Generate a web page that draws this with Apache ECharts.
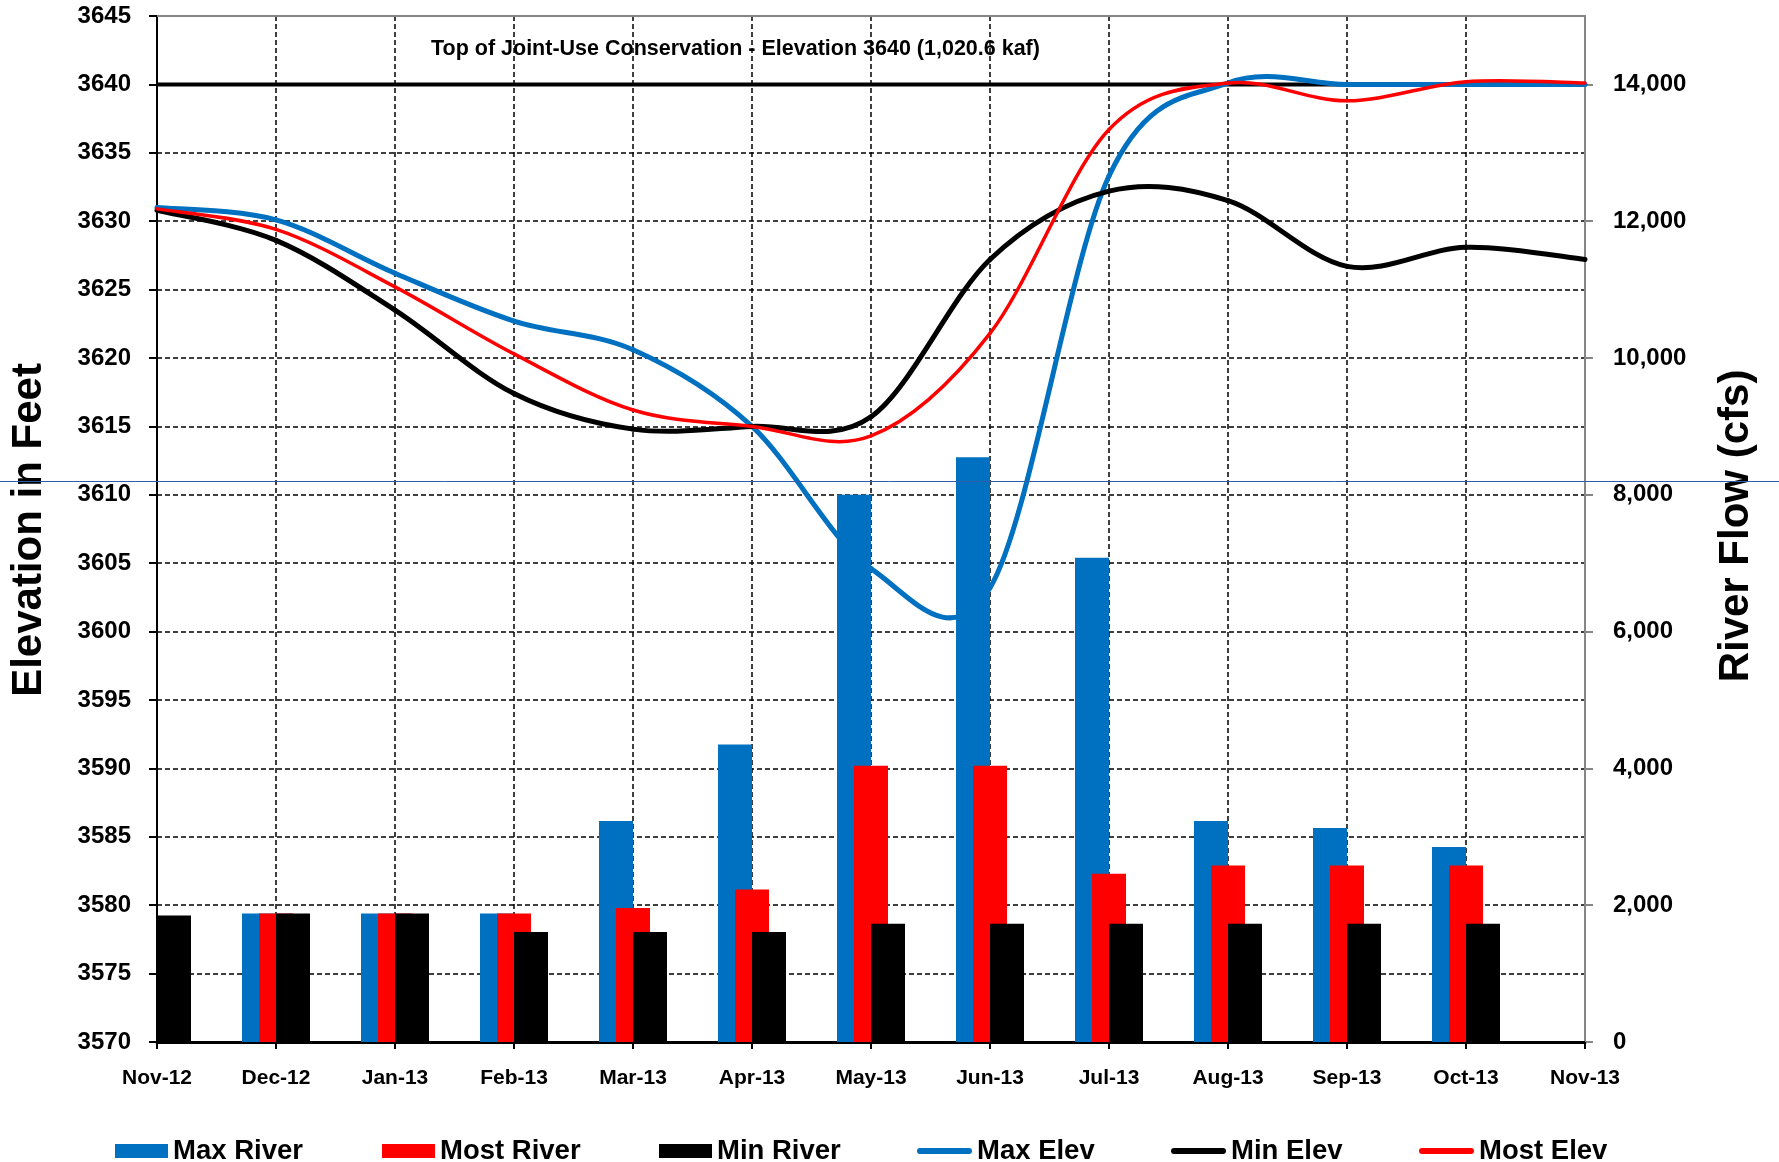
<!DOCTYPE html>
<html>
<head>
<meta charset="utf-8">
<script src="https://cdn.jsdelivr.net/npm/echarts@6/dist/echarts.min.js"></script>
<style>
  html, body { margin: 0; padding: 0; background: #fff; }
  #chart { width: 1779px; height: 1162px; }
</style>
</head>
<body>
<div id="chart"></div>
<script>
// Month boundaries shown along the bottom axis
const months = ['Nov-12', 'Dec-12', 'Jan-13', 'Feb-13', 'Mar-13', 'Apr-13', 'May-13',
                'Jun-13', 'Jul-13', 'Aug-13', 'Sep-13', 'Oct-13', 'Nov-13'];

// Monthly river releases (cfs), right axis
const maxRiver  = ['-', 1880, 1880, 1880, 3230, 4350, 8000, 8550, 7080, 3230, 3130, 2850, '-'];
const mostRiver = ['-', 1880, 1880, 1880, 1960, 2230, 4040, 4040, 2460, 2580, 2580, 2580, '-'];
const minRiver  = [1850, 1880, 1880, 1610, 1610, 1610, 1730, 1730, 1730, 1730, 1730, 1730, '-'];

// End-of-month reservoir elevation (feet), left axis
const maxElev  = [3631.0, 3630.1, 3626.2, 3622.7, 3620.6, 3615.0, 3604.6, 3603.2, 3633.3, 3640.1, 3640.0, 3640.0, 3640.0];
const minElev  = [3630.8, 3628.6, 3623.5, 3617.4, 3614.8, 3615.0, 3615.7, 3627.2, 3632.2, 3631.5, 3626.7, 3628.1, 3627.2];
const mostElev = [3630.9, 3629.4, 3625.2, 3620.3, 3616.2, 3615.0, 3614.3, 3621.8, 3636.7, 3640.1, 3638.8, 3640.2, 3640.1];

// Top of joint-use conservation pool
const TOP_ELEV = 3640;
const TOP_STORAGE = '1,020.6 kaf';

// Tick values
const elevMin = 3570, elevMax = 3645, elevStep = 5;
const flowTicks = [0, 2000, 4000, 6000, 8000, 10000, 12000, 14000];

const FONT = '"Liberation Sans", Arial, Helvetica, sans-serif';
const BLUE = '#0070C0', RED = '#FF0000', BLACK = '#000000', GREY = '#868686';

const chart = echarts.init(document.getElementById('chart'), null, { renderer: 'canvas' });

const pill = 'path://M3,0 H52 A3,3 0 0 1 52,6 H3 A3,3 0 0 1 3,0 Z';
const legendText = { fontFamily: FONT, fontSize: 27.5, fontWeight: 'bold', color: BLACK };
function legendAt(name, left, isLine) {
  return {
    data: [name], left: left, top: 1137, padding: 0, orient: 'horizontal',
    icon: isLine ? pill : 'rect',
    itemWidth: isLine ? 55 : 53, itemHeight: isLine ? 6 : 14,
    textStyle: legendText, selectedMode: false
  };
}

function barSeries(name, data, color) {
  return {
    name, type: 'bar', xAxisIndex: 0, yAxisIndex: 1, data,
    barWidth: 34, barGap: '-50%',
    itemStyle: { color }, z: 4, silent: true
  };
}

// Elevation traces: each segment is a cubic Bezier through neighbouring
// points (Catmull-Rom tangents), positioned with the axes' own coord().
function elevSeries(name, values, color, width, z) {
  const last = values.length - 1;
  const at = (api, j) => {
    const k = Math.max(0, Math.min(last, j));
    return api.coord([k, values[k]]);
  };
  return {
    name, type: 'custom', xAxisIndex: 0, yAxisIndex: 0, z, silent: true,
    itemStyle: { color },
    data: values.map((v, i) => [i, v]),
    encode: { x: 0, y: 1 },
    renderItem: (params, api) => {
      const i = params.dataIndex;
      if (i >= last) return null;
      const p0 = at(api, i - 1), p1 = at(api, i), p2 = at(api, i + 1), p3 = at(api, i + 2);
      return {
        type: 'bezierCurve',
        shape: {
          x1: p1[0], y1: p1[1], x2: p2[0], y2: p2[1],
          cpx1: p1[0] + (p2[0] - p0[0]) / 6, cpy1: p1[1] + (p2[1] - p0[1]) / 6,
          cpx2: p2[0] - (p3[0] - p1[0]) / 6, cpy2: p2[1] - (p3[1] - p1[1]) / 6
        },
        style: { stroke: color, lineWidth: width, fill: 'none', lineCap: 'round' }
      };
    }
  };
}

const option = {
  animation: false,
  backgroundColor: '#ffffff',
  textStyle: { fontFamily: FONT },
  grid: { left: 157, right: 194, top: 16, bottom: 120, outerBoundsMode: 'none' },
  title: {
    text: 'Top of Joint-Use Conservation - Elevation ' + TOP_ELEV + ' (' + TOP_STORAGE + ')',
    left: 431, top: 38, padding: 0,
    textStyle: { fontFamily: FONT, fontSize: 21.5, fontWeight: 'bold', color: BLACK }
  },
  legend: [
    legendAt('Max River', 115, false),
    legendAt('Most River', 382, false),
    legendAt('Min River', 659, false),
    legendAt('Max Elev', 917, true),
    legendAt('Min Elev', 1171, true),
    legendAt('Most Elev', 1419, true)
  ],
  xAxis: [
    {
      type: 'category', data: months, boundaryGap: false, position: 'bottom',
      axisLine: { show: true, lineStyle: { color: BLACK, width: 3 } },
      axisTick: { show: true, length: 7, lineStyle: { color: BLACK, width: 2 } },
      axisLabel: { interval: 0, margin: 26, fontFamily: FONT, fontSize: 21, fontWeight: 'bold', color: BLACK },
      splitLine: {
        show: true,
        interval: (i) => i > 0 && i < months.length - 1,
        lineStyle: { color: BLACK, width: 1.5, type: [5, 3] }
      }
    },
    {
      type: 'category', data: months, boundaryGap: false, position: 'top',
      axisLine: { show: true, lineStyle: { color: GREY, width: 2 } },
      axisTick: { show: false }, axisLabel: { show: false }, splitLine: { show: false }
    }
  ],
  yAxis: [
    {
      type: 'value', min: elevMin, max: elevMax, interval: elevStep, position: 'left',
      axisLine: { show: true, lineStyle: { color: BLACK, width: 2 } },
      axisTick: { show: true, length: 8, lineStyle: { color: BLACK, width: 2 } },
      axisLabel: {
        margin: 26, fontFamily: FONT, fontSize: 24, fontWeight: 'bold', color: BLACK,
        padding: [5, 0, 0, 0], formatter: (v) => String(v)
      },
      splitLine: { show: true, lineStyle: { color: BLACK, width: 1.5, type: [5, 3] } }
    },
    {
      type: 'value', min: 0, max: 15000, interval: 2000, position: 'right',
      axisLine: { show: true, lineStyle: { color: GREY, width: 2 } },
      axisTick: { show: true, length: 8, lineStyle: { color: GREY, width: 2 }, customValues: flowTicks },
      axisLabel: {
        margin: 28, fontFamily: FONT, fontSize: 24, fontWeight: 'bold', color: BLACK,
        customValues: flowTicks, padding: [3, 0, 0, 0],
        formatter: (v) => Number(v).toLocaleString('en-US')
      },
      splitLine: { show: false }
    }
  ],
  series: [
    {
      name: 'Top of Joint-Use Conservation', type: 'line', xAxisIndex: 0, yAxisIndex: 0,
      data: [[0, TOP_ELEV], [months.length - 1, TOP_ELEV]],
      symbol: 'none', showSymbol: false, silent: true, z: 2,
      lineStyle: { color: BLACK, width: 4 }
    },
    elevSeries('Max Elev', maxElev, BLUE, 5, 2.1),
    elevSeries('Min Elev', minElev, BLACK, 5, 2.2),
    elevSeries('Most Elev', mostElev, RED, 3.5, 2.3),
    barSeries('Max River', maxRiver, BLUE),
    barSeries('Most River', mostRiver, RED),
    barSeries('Min River', minRiver, BLACK)
  ],
  graphic: [
    {
      type: 'text', x: 29, y: 530, rotation: Math.PI / 2, z: 50,
      style: { text: 'Elevation in Feet', fontFamily: FONT, fontSize: 42, fontWeight: 'bold',
               fill: BLACK, align: 'center', verticalAlign: 'middle' }
    },
    {
      type: 'text', x: 1736, y: 526, rotation: Math.PI / 2, z: 50,
      style: { text: 'River Flow (cfs)', fontFamily: FONT, fontSize: 42, fontWeight: 'bold',
               fill: BLACK, align: 'center', verticalAlign: 'middle' }
    },
    {
      type: 'line', z: 60, silent: true,
      shape: { x1: 0, y1: 481.5, x2: 1779, y2: 481.5 },
      style: { stroke: '#2E5EA8', lineWidth: 1 }
    }
  ]
};

chart.setOption(option);
</script>
</body>
</html>
